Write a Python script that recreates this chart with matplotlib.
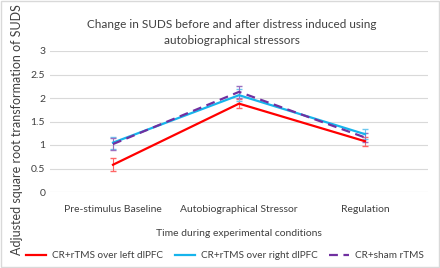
import matplotlib.pyplot as plt
from matplotlib.lines import Line2D
import numpy as np

plt.rcParams['font.family'] = ['Lato', 'DejaVu Sans']

# Data
conditions = ['Pre-stimulus Baseline', 'Autobiographical Stressor', 'Regulation']
left_vals = [0.58, 1.88, 1.08]
left_err = [0.14, 0.09, 0.10]
right_vals = [1.05, 2.06, 1.23]
right_err = [0.13, 0.13, 0.10]
sham_vals = [1.02, 2.13, 1.16]
sham_err = [0.12, 0.12, 0.09]
series_labels = ['CR+rTMS over left dlPFC', 'CR+rTMS over right dlPFC', 'CR+sham rTMS']

red, blue, purple = '#ff0000', '#16b4ec', '#7030a0'
dash = (0, (4, 2.5))

fig = plt.figure(figsize=(4.4, 2.68), dpi=100)
ax = fig.add_axes([50 / 440, (268 - 192) / 268, 378 / 440, 141 / 268])

x = np.arange(len(conditions))
ax.errorbar(x, left_vals, yerr=left_err, color=red, lw=1.6,
            ecolor='#ff6666', elinewidth=0.8, capsize=2.5)
ax.errorbar(x, right_vals, yerr=right_err, color=blue, lw=1.6,
            ecolor='#6cc8f0', elinewidth=0.8, capsize=2.5)
ax.errorbar(x, sham_vals, yerr=sham_err, color=purple, lw=1.6, ls=dash,
            ecolor='#9a70c0', elinewidth=0.8, capsize=2.5)

ax.set_xlim(-0.5, 2.5)
ax.set_ylim(0, 3)
ax.set_yticks([0, 0.5, 1, 1.5, 2, 2.5, 3])
ax.set_yticklabels(['0', '0.5', '1', '1.5', '2', '2.5', '3'])
ax.set_xticks(x)
ax.set_xticklabels(conditions)
ax.tick_params(length=0, labelsize=7.5, colors='#404040')
ax.tick_params(axis='x', pad=9)
ax.grid(axis='y', color='#d9d9d9', lw=0.8)
ax.set_axisbelow(True)
for s in ax.spines.values():
    s.set_visible(False)

ax.set_xlabel('Time during experimental conditions', fontsize=7.5, color='#404040', labelpad=11)
fig.text(17 / 440, (268 - 130) / 268, 'Adjusted square root transformation of SUDS', rotation=90,
         ha='center', va='center', fontsize=9, color='#404040')
fig.text(232 / 440, 0.877, 'Change in SUDS before and after distress induced using\nautobiographical stressors',
         ha='center', va='center', fontsize=8.5, color='#404040', linespacing=1.55)

handles = [Line2D([], [], color=red, lw=1.6),
           Line2D([], [], color=blue, lw=1.6),
           Line2D([], [], color=purple, lw=1.6, ls=dash)]
fig.legend(handles, series_labels, loc='center', bbox_to_anchor=(225 / 440, 12 / 268), ncol=3,
           frameon=False, fontsize=7.2, handlelength=2.0, columnspacing=1.2,
           handletextpad=0.6, labelcolor='#404040')

fig.patches.append(plt.Rectangle((0.002, 0.004), 0.996, 0.992, transform=fig.transFigure,
                                 fill=False, ec='#d9d9d9', lw=1))

plt.savefig('out.png', dpi=100)
